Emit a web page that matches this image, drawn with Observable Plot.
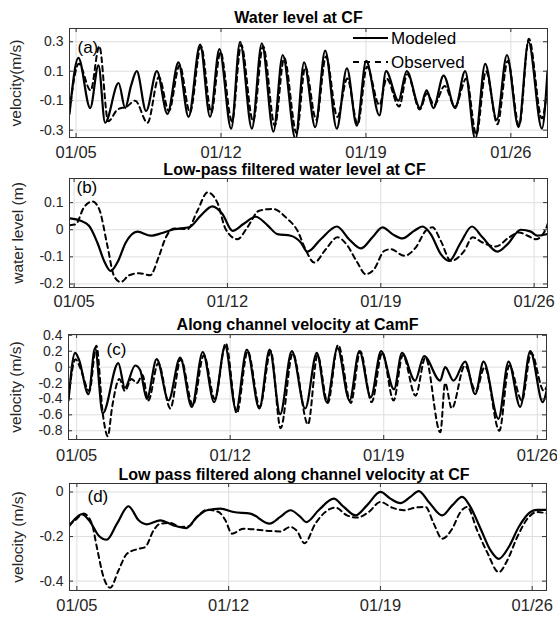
<!DOCTYPE html>
<html><head><meta charset="utf-8">
<script src="https://cdn.jsdelivr.net/npm/d3@7"></script>
<script src="https://cdn.jsdelivr.net/npm/@observablehq/plot@0.6"></script>
<style>
body{margin:0;background:#fff;}
#wrap{position:relative;width:557px;height:619px;overflow:hidden;font-family:"Liberation Sans",Arial,sans-serif;}
.leg{position:absolute;display:flex;align-items:center;font-size:17px;color:#000;line-height:1;}
</style></head><body><div id="wrap"></div>
<script>
// shared x ticks (days of January)
const dateTicks = [5, 12, 19, 26];
const dateTickLabels = ["01/05", "01/12", "01/19", "01/26"];
const seriesNames = ["Modeled", "Observed"];

// (a) Water level at CF
const aYTicks = [-0.3, -0.1, 0.1, 0.3];
const aYTickLabels = ["-0.3", "-0.1", "0.1", "0.3"];
const aModDay = [4.68,5.11,5.68,6.08,6.4,7.05,7.37,7.65,7.93,8.38,8.9,9.41,9.94,10.43,10.99,11.47,11.92,12.49,12.92,13.49,13.97,14.53,14.98,15.6,16.01,16.55,17.03,17.59,18.08,18.56,19.01,19.65,19.97,20.57,20.97,21.61,21.93,22.26,22.75,23.31,23.79,24.28,24.76,25.32,25.81,26.37,26.85,27.5,27.77];
const aModVal = [-0.19,0.19,-0.15,0.14,-0.25,0.02,-0.15,0.0,0.1,-0.17,0.1,-0.19,0.16,-0.21,0.28,-0.21,0.25,-0.29,0.3,-0.29,0.29,-0.31,0.21,-0.36,0.16,-0.28,0.24,-0.29,0.12,-0.27,0.17,-0.2,0.1,-0.1,0.1,-0.15,-0.03,-0.15,0.07,-0.15,0.1,-0.36,0.15,-0.23,0.21,-0.28,0.3,-0.29,0.1];
const aObsDay = [4.68,5.13,5.7,6.12,6.55,7.0,7.45,7.85,8.45,9.0,9.48,10.0,10.5,11.03,11.53,11.97,12.53,12.97,13.55,14.03,14.6,15.05,15.65,16.07,16.6,17.07,17.62,18.1,18.6,19.05,19.65,20.0,20.6,21.0,21.6,21.95,22.3,22.8,23.3,23.85,24.33,24.8,25.35,25.85,26.4,26.87,27.5,27.77];
const aObsVal = [-0.17,0.15,-0.03,0.27,-0.24,-0.16,-0.14,-0.1,-0.25,0.06,-0.17,0.14,-0.18,0.27,-0.18,0.23,-0.24,0.28,-0.24,0.27,-0.27,0.19,-0.32,0.13,-0.23,0.2,-0.21,0.05,-0.26,0.13,-0.13,0.05,-0.14,0.08,-0.16,-0.05,-0.13,0.0,-0.14,0.05,-0.33,0.1,-0.26,0.17,-0.27,0.32,-0.22,0.0];

// (b) Low-pass filtered water level at CF
const bYTicks = [-0.2, -0.1, 0, 0.1];
const bYTickLabels = ["-0.2", "-0.1", "0", "0.1"];
const bModDay = [4.81,5.3,5.68,6.06,6.37,6.67,6.98,7.36,7.89,8.5,9.03,9.56,10.25,10.78,11.31,11.77,12.23,12.73,13.29,13.82,14.28,14.89,15.35,15.65,16.26,17.0,17.55,18.09,18.62,19.08,19.53,19.99,20.52,20.9,21.28,21.74,22.12,22.65,23.16,23.64,24.33,24.79,25.39,25.85,26.15,26.61];
const bModVal = [0.042,0.033,0.015,-0.047,-0.115,-0.152,-0.12,-0.047,-0.007,-0.022,-0.012,0.002,0.009,0.052,0.086,0.058,-0.004,0.021,0.048,0.017,-0.016,-0.022,-0.047,-0.081,-0.035,0.012,-0.035,-0.069,-0.028,0.009,-0.016,-0.032,-0.004,0.012,-0.016,-0.09,-0.115,-0.047,0.012,-0.028,-0.081,-0.053,0.0,-0.007,-0.022,-0.016];
const bObsDay = [4.81,5.07,5.45,5.84,6.14,6.52,6.82,7.13,7.51,7.97,8.47,8.88,9.19,9.56,10.17,10.63,11.09,11.54,11.92,12.46,12.91,13.44,14.05,14.74,15.2,15.55,15.96,16.49,17.02,17.48,17.93,18.31,18.69,19.16,19.46,20.07,20.6,21.05,21.36,21.74,22.2,22.81,23.19,23.64,24.25,24.86,25.32,25.7,26.08,26.53,26.64];
const bObsVal = [0.017,0.02,0.083,0.104,0.077,-0.059,-0.17,-0.193,-0.168,-0.16,-0.168,-0.096,-0.028,0.005,0.002,0.07,0.138,0.1,0.002,-0.035,0.009,0.07,0.077,0.04,-0.004,-0.07,-0.121,-0.072,-0.028,-0.059,-0.121,-0.164,-0.146,-0.078,-0.072,-0.096,-0.065,-0.004,0.009,-0.041,-0.115,-0.078,-0.028,-0.047,-0.062,-0.028,-0.01,-0.022,-0.035,0.002,0.027];

// (c) Along channel velocity at CamF
const cYTicks = [-0.8, -0.6, -0.4, -0.2, 0, 0.2, 0.4];
const cYTickLabels = ["-0.8", "-0.6", "-0.4", "-0.2", "0", "0.2", "0.4"];
const cModDay = [4.63,4.93,5.1,5.54,5.84,6.19,6.9,7.2,7.67,7.9,8.2,8.65,9.19,9.72,10.25,10.75,11.27,11.77,12.27,12.76,13.33,13.8,14.28,14.81,15.42,15.95,16.4,16.89,17.44,17.89,18.41,18.88,19.47,19.83,20.43,20.84,21.57,21.8,22.18,22.71,23.17,23.55,24.23,24.69,25.22,25.68,26.25,26.42];
const cModVal = [-0.42,0.18,0.1,-0.34,0.24,-0.58,0.05,-0.26,0.02,-0.04,-0.4,0.1,-0.42,0.12,-0.5,0.19,-0.44,0.26,-0.54,0.22,-0.52,0.22,-0.59,0.2,-0.52,0.18,-0.44,0.24,-0.42,0.2,-0.38,0.2,-0.28,0.18,-0.17,0.14,-0.17,0.0,-0.17,0.07,-0.34,0.07,-0.65,0.07,-0.5,0.2,-0.44,-0.3];
const cObsDay = [4.63,4.95,5.15,5.58,5.9,6.2,6.42,6.62,6.95,7.2,7.5,7.75,8.0,8.27,8.72,9.27,9.75,10.3,10.8,11.3,11.8,12.3,12.8,13.35,13.85,14.3,14.85,15.55,15.98,16.45,16.92,17.5,17.93,18.45,18.93,19.45,19.87,20.45,20.9,21.58,21.8,22.1,22.7,23.2,23.6,24.27,24.72,25.3,25.72,26.3,26.42];
const cObsVal = [-0.38,0.1,0.0,-0.3,0.27,-0.6,-0.87,-0.5,-0.15,-0.3,-0.15,-0.2,-0.1,-0.42,0.05,-0.52,0.1,-0.48,0.15,-0.4,0.3,-0.58,0.2,-0.5,0.2,-0.77,0.17,-0.72,0.15,-0.45,0.28,-0.45,0.2,-0.44,0.18,-0.42,0.15,-0.36,0.12,-0.82,-0.2,-0.52,0.02,-0.3,0.0,-0.8,0.02,-0.42,0.18,-0.3,-0.25];

// (d) Low pass filtered along channel velocity at CF
const dYTicks = [-0.4, -0.2, 0];
const dYTickLabels = ["-0.4", "-0.2", "0"];
const dModDay = [4.62,4.92,5.23,5.62,6.0,6.38,6.85,7.38,7.85,8.23,8.85,9.46,10.05,10.54,11.0,11.62,12.23,13.0,13.89,14.38,14.85,15.31,15.58,16.15,16.85,17.31,17.85,18.38,19.0,19.46,19.92,20.38,20.77,21.23,21.85,22.31,22.77,23.15,23.62,24.08,24.46,24.92,25.38,25.92,26.23,26.69];
const dModVal = [-0.157,-0.12,-0.1,-0.135,-0.195,-0.214,-0.142,-0.064,-0.127,-0.145,-0.127,-0.15,-0.162,-0.112,-0.082,-0.075,-0.09,-0.097,-0.142,-0.112,-0.082,-0.112,-0.135,-0.082,-0.03,-0.067,-0.105,-0.06,0.0,-0.03,-0.05,-0.022,0.004,-0.045,-0.105,-0.06,-0.022,-0.067,-0.165,-0.262,-0.3,-0.247,-0.157,-0.09,-0.08,-0.08];
const dObsDay = [4.62,4.92,5.31,5.69,5.92,6.23,6.54,6.92,7.31,7.85,8.15,8.54,8.85,9.31,9.77,10.15,10.54,11.0,11.54,11.85,12.15,12.69,13.31,13.92,14.38,14.85,15.15,15.5,16.0,16.46,16.92,17.46,17.92,18.46,19.0,19.54,20.08,20.62,21.08,21.46,21.85,22.31,22.69,23.0,23.46,23.92,24.46,24.85,25.31,25.85,26.23,26.69];
const dObsVal = [-0.15,-0.127,-0.097,-0.142,-0.247,-0.382,-0.43,-0.352,-0.277,-0.255,-0.247,-0.172,-0.142,-0.139,-0.157,-0.154,-0.112,-0.08,-0.09,-0.127,-0.187,-0.165,-0.169,-0.175,-0.177,-0.157,-0.175,-0.23,-0.142,-0.09,-0.07,-0.105,-0.115,-0.09,-0.045,-0.07,-0.082,-0.07,-0.067,-0.142,-0.21,-0.165,-0.09,-0.067,-0.172,-0.27,-0.36,-0.307,-0.202,-0.112,-0.09,-0.097];

const wrap = document.getElementById("wrap");
const W = 557;
const GRID = "#dedede";
const FRAME = "#333333";
const FONT = "'Liberation Sans', Arial, sans-serif";

function makePanel(cfg) {
  const H = cfg.frameBottom - cfg.frameTop;
  const FW = cfg.right - cfg.left;
  const mTop = 28;
  const height = mTop + H + cfg.mBottom;
  const mod = cfg.modDay.map((d, i) => ({day: d, v: cfg.modVal[i]}));
  const obs = cfg.obsDay.map((d, i) => ({day: d, v: cfg.obsVal[i]}));
  const plot = Plot.plot({
    width: W, height,
    marginTop: mTop, marginBottom: cfg.mBottom, marginLeft: cfg.left, marginRight: W - cfg.right,
    x: {domain: cfg.xDomain},
    y: {domain: cfg.yDomain},
    style: {background: "transparent", overflow: "visible", fontFamily: FONT, color: "#262626"},
    marks: [
      Plot.gridX(dateTicks, {stroke: GRID, strokeOpacity: 1}),
      Plot.gridY(cfg.yTicks, {stroke: GRID, strokeOpacity: 1}),
      Plot.line(obs, {x: "day", y: "v", curve: "monotone-x", stroke: "#000", strokeWidth: 2, strokeDasharray: "5,4", clip: true}),
      Plot.line(mod, {x: "day", y: "v", curve: "monotone-x", stroke: "#000", strokeWidth: 2.2, clip: true}),
      Plot.tickX(dateTicks, {insetTop: H - 4, stroke: FRAME}),
      Plot.tickX(dateTicks, {insetBottom: H - 4, stroke: FRAME}),
      Plot.tickY(cfg.yTicks, {insetLeft: FW - 4, stroke: FRAME}),
      Plot.tickY(cfg.yTicks, {insetRight: FW - 4, stroke: FRAME}),
      Plot.frame({stroke: FRAME}),
      Plot.axisX(dateTicks, {tickSize: 0, tickPadding: cfg.xPad, tickFormat: (d) => dateTickLabels[dateTicks.indexOf(d)], fontSize: 16.5, label: null, fill: "#262626"}),
      Plot.axisY(cfg.yTicks, {tickSize: 0, tickPadding: 6, tickFormat: (d) => cfg.yTickLabels[cfg.yTicks.indexOf(d)], fontSize: 14, label: null, fill: "#262626"}),
      Plot.text([cfg.title], {text: (d) => d, frameAnchor: "top", dx: cfg.titleDx || 0, dy: cfg.titleDy, fontWeight: "bold", fontSize: 16, lineAnchor: "middle", fill: "#000"}),
      Plot.text([cfg.ylabel], {text: (d) => d, frameAnchor: "left", dx: cfg.ylabelX - cfg.left, rotate: -90, textAnchor: "middle", lineAnchor: "middle", fontSize: 15.5, fill: "#262626"}),
      Plot.text([cfg.tag], {text: (d) => d, frameAnchor: "top-left", dx: cfg.tagX - cfg.left, dy: cfg.tagY - cfg.frameTop, textAnchor: "start", lineAnchor: "middle", fontSize: 17, fill: "#000"})
    ]
  });
  plot.style.position = "absolute";
  plot.style.left = "0px";
  plot.style.top = (cfg.frameTop - mTop) + "px";
  wrap.appendChild(plot);
}

makePanel({title: "Water level at CF", ylabel: "velocity(m/s)", tag: "(a)",
  left: 69, right: 547, frameTop: 28, frameBottom: 137, mBottom: 24, xPad: 9,
  xDomain: [4.68, 27.77], yDomain: [-0.35, 0.39], yTicks: aYTicks, yTickLabels: aYTickLabels,
  modDay: aModDay, modVal: aModVal, obsDay: aObsDay, obsVal: aObsVal,
  titleDx: -10, titleDy: -11, ylabelX: 16, tagX: 77, tagY: 47});

makePanel({title: "Low-pass filtered water level at CF", ylabel: "water level (m)", tag: "(b)",
  left: 69, right: 547, frameTop: 178, frameBottom: 287, mBottom: 26, xPad: 8,
  xDomain: [4.79, 26.61], yDomain: [-0.213, 0.189], yTicks: bYTicks, yTickLabels: bYTickLabels,
  modDay: bModDay, modVal: bModVal, obsDay: bObsDay, obsVal: bObsVal,
  titleDx: -14, titleDy: -9, ylabelX: 18, tagX: 76, tagY: 187});

makePanel({title: "Along channel velocity at CamF", ylabel: "velocity (m/s)", tag: "(c)",
  left: 68, right: 546, frameTop: 334, frameBottom: 439, mBottom: 26, xPad: 10,
  xDomain: [4.63, 26.42], yDomain: [-0.91, 0.41], yTicks: cYTicks, yTickLabels: cYTickLabels,
  modDay: cModDay, modVal: cModVal, obsDay: cObsDay, obsVal: cObsVal,
  titleDx: -10, titleDy: -10, ylabelX: 16, tagX: 106, tagY: 349});

makePanel({title: "Low pass filtered along channel velocity at CF", ylabel: "velocity (m/s)", tag: "(d)",
  left: 69, right: 546, frameTop: 483, frameBottom: 590, mBottom: 29, xPad: 9,
  xDomain: [4.66, 26.66], yDomain: [-0.442, 0.038], yTicks: dYTicks, yTickLabels: dYTickLabels,
  modDay: dModDay, modVal: dModVal, obsDay: dObsDay, obsVal: dObsVal,
  titleDx: -14, titleDy: -9, ylabelX: 18, tagX: 87, tagY: 496});

// legend for panel (a)
const legRows = [{name: seriesNames[0], dash: null, y: 38}, {name: seriesNames[1], dash: "6,5", y: 62}];
legRows.forEach((r) => {
  const div = document.createElement("div");
  div.className = "leg";
  div.style.left = "353px";
  div.style.top = (r.y - 10) + "px";
  div.style.height = "20px";
  const ns = "http://www.w3.org/2000/svg";
  const s = document.createElementNS(ns, "svg");
  s.setAttribute("width", "36"); s.setAttribute("height", "20");
  const ln = document.createElementNS(ns, "line");
  ln.setAttribute("x1", "0"); ln.setAttribute("x2", "35"); ln.setAttribute("y1", "10"); ln.setAttribute("y2", "10");
  ln.setAttribute("stroke", "#000"); ln.setAttribute("stroke-width", "2");
  if (r.dash) ln.setAttribute("stroke-dasharray", r.dash);
  s.appendChild(ln);
  div.appendChild(s);
  const t = document.createElement("span");
  t.textContent = r.name;
  t.style.marginLeft = "2px";
  div.appendChild(t);
  wrap.appendChild(div);
});
</script>
</body></html>
